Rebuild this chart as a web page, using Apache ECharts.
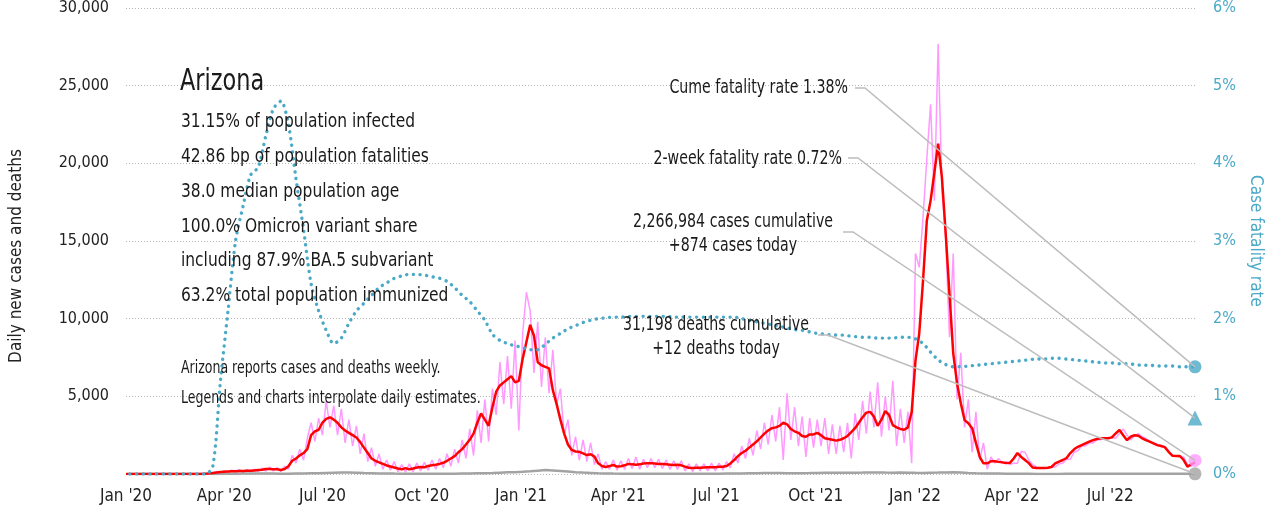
<!DOCTYPE html>
<html>
<head>
<meta charset="utf-8">
<script src="https://cdn.jsdelivr.net/npm/echarts@6/dist/echarts.min.js"></script>
<style>
html, body { margin: 0; padding: 0; background: #fff; }
#chart { width: 1281px; height: 519px; }
</style>
</head>
<body>
<div id="chart"></div>
<script>
var FONT = "'Liberation Sans Narrow', 'DejaVu Sans Condensed', sans-serif";
var DAY = 86400000;
var startDate = '2020-01-01';
var stepDays = 3.5;   // cases sampled twice a week, deaths and rate once a week (odd steps)

// daily new cases (raw, pink)
var casesDaily = [
  0,0,0,0,0,0,0,0,0,0,
  0,0,0,0,0,0,0,0,0,0,
  0,0,80,20,160,60,220,100,250,120,
  280,110,300,130,320,160,380,180,450,200,
  420,150,500,300,1200,700,1600,900,2300,3300,
  2100,3600,2500,4700,3000,4400,2500,4200,2000,3500,
  1800,3100,1300,2600,800,1700,500,1300,300,900,
  250,800,150,600,120,650,150,700,200,750,
  250,900,300,1000,400,1300,500,1600,700,2200,
  1000,2900,1200,4100,2000,4800,2100,5500,3800,7200,
  4500,7600,4200,8600,2800,9000,11700,10500,6500,9800,
  5600,8800,5200,8000,4500,5500,2500,3500,1200,2400,
  900,2200,800,2000,600,1300,300,800,300,900,
  250,850,300,1000,350,1100,300,950,400,1000,
  400,950,350,900,300,850,300,850,200,650,
  150,650,200,650,200,700,200,700,250,800,
  400,1300,700,1800,1000,2300,1200,2800,1600,3300,
  1900,3800,2100,4300,900,5200,2200,4300,1800,3700,
  1100,3600,1700,3500,1800,3600,1300,3200,1300,3100,
  1400,3300,1000,3900,2200,4700,2600,5300,3000,5900,
  2400,5000,2800,6000,1800,4200,2000,4000,700,14200,
  13300,16500,20300,23800,17600,27700,18400,15200,8800,14200,
  4800,7800,3000,4800,1400,4000,900,2000,300,1100,
  700,1000,700,800,600,700,700,1450,1400,900,
  600,450,350,400,350,450,450,650,700,950,
  950,1400,1500,1800,1800,2000,2000,2200,2200,2350,
  2300,2350,2300,2600,2900,2500,2200,2450,2600,2400,
  2300,2100,2000,1900,1850,1700,1500,1200,1150,1100,
  1100,600,500,874
];

// 7-day average of new cases (red)
var casesAvg = [
  0,0,0,0,0,0,0,0,0,0,
  0,0,0,0,0,0,0,0,0,0,
  0,20,40,70,100,130,150,160,170,180,
  190,200,210,210,230,250,270,320,320,300,
  300,260,320,500,850,1000,1200,1350,1600,2500,
  2750,2850,3300,3550,3650,3500,3300,3000,2800,2650,
  2500,2350,2050,1700,1350,1000,850,750,650,550,
  480,420,350,300,380,300,350,420,450,430,
  520,560,600,650,720,850,1000,1150,1400,1600,
  1900,2200,2600,3300,3900,3500,3100,4300,5300,5700,
  5900,6100,6300,5900,6000,7400,8500,9600,8900,7200,
  7000,6900,6800,5400,4500,3500,2600,1900,1550,1450,
  1430,1330,1220,1270,1120,690,510,450,510,580,
  480,500,560,650,620,600,620,680,700,700,
  680,650,640,620,600,580,590,560,470,400,
  390,400,410,420,430,440,440,460,470,520,
  680,900,1150,1350,1500,1700,1900,2100,2350,2600,
  2800,2950,3000,3100,3300,3200,2900,2750,2650,2450,
  2400,2550,2550,2650,2500,2300,2250,2200,2150,2200,
  2300,2450,2700,2950,3300,3650,3950,4000,3700,3100,
  3500,4050,3800,3150,3000,2900,2850,3000,4000,7300,
  9060,12450,16300,17600,19400,21260,19100,15500,11600,7770,
  5850,4550,3470,3270,2950,2000,1110,690,690,820,
  820,780,750,700,720,1000,1350,1100,900,700,
  420,380,380,380,400,450,690,800,900,1030,
  1350,1590,1750,1860,1970,2080,2180,2250,2300,2300,
  2300,2360,2610,2830,2500,2180,2400,2500,2460,2300,
  2180,2080,1970,1860,1800,1730,1430,1180,1160,1160,
  900,470,630,730
];

// daily deaths (gray), weekly
var deathsWeekly = [
  0,0,0,0,0,0,0,0,0,0,
  0,2,6,12,20,28,30,35,30,28,
  22,20,25,30,45,55,70,85,95,90,
  80,60,50,40,35,28,22,18,14,12,
  12,14,16,20,25,30,42,52,65,85,
  105,120,140,170,210,250,230,200,160,120,
  90,70,50,38,28,22,18,14,12,10,
  10,10,10,12,12,14,15,18,22,28,
  32,38,46,52,58,60,58,55,52,56,
  62,70,76,82,86,80,85,92,100,96,
  90,85,92,82,76,72,82,92,104,112,
  96,72,52,36,30,25,20,16,12,10,
  8,8,8,8,10,10,12,12,12,14,
  14,15,14,14,13,13,12,12,12,12,
  12,12
];

// case fatality rate, % (blue dotted), weekly
var cfrWeekly = [
  0,0,0,0,0,0,0,0,0,0,
  0,0.1,1.2,2.1,3.0,3.45,3.85,3.95,4.35,4.7,
  4.8,4.5,3.8,3.15,2.45,2.1,1.85,1.68,1.75,1.94,
  2.1,2.2,2.3,2.4,2.46,2.52,2.55,2.57,2.57,2.56,
  2.54,2.52,2.48,2.4,2.3,2.22,2.1,1.98,1.8,1.72,
  1.68,1.65,1.63,1.6,1.6,1.67,1.75,1.81,1.87,1.91,
  1.95,1.98,2.0,2.01,2.02,2.02,2.03,2.03,2.03,2.03,
  2.03,2.03,2.02,2.02,2.02,2.02,2.02,2.02,2.02,2.02,
  2.02,2.0,1.98,1.96,1.94,1.92,1.9,1.88,1.86,1.85,
  1.83,1.81,1.8,1.79,1.79,1.78,1.77,1.76,1.76,1.75,
  1.75,1.75,1.76,1.76,1.74,1.68,1.57,1.47,1.41,1.38,
  1.38,1.39,1.4,1.41,1.42,1.43,1.44,1.45,1.46,1.47,
  1.48,1.48,1.49,1.49,1.48,1.47,1.46,1.45,1.44,1.43,
  1.43,1.42,1.42,1.41,1.4,1.4,1.39,1.39,1.39,1.38,
  1.38,1.38
];

var todayCfr = 1.38;
var twoWeekCfr = 0.72;
var todayCases = 874;
var todayDeaths = 12;

var tickDates = ['2020-01-01','2020-04-01','2020-07-01','2020-10-01','2021-01-01','2021-04-01',
                 '2021-07-01','2021-10-01','2022-01-01','2022-04-01','2022-07-01'];
var tickLabels = ["Jan '20","Apr '20","Jul '20","Oct '20","Jan '21","Apr '21",
                  "Jul '21","Oct '21","Jan '22","Apr '22","Jul '22"];

var stateName = 'Arizona';
var statLines = [
  '31.15% of population infected',
  '42.86 bp of population fatalities',
  '38.0 median population age',
  '100.0% Omicron variant share',
  'including 87.9% BA.5 subvariant',
  '63.2% total population immunized'
];
var noteLines = [
  'Arizona reports cases and deaths weekly.',
  'Legends and charts interpolate daily estimates.'
];
var calloutCfr = ['Cume fatality rate 1.38%'];
var callout2wk = ['2-week fatality rate 0.72%'];
var calloutCases = ['2,266,984 cases cumulative', '+874 cases today'];
var calloutDeaths = ['31,198 deaths cumulative', '+12 deaths today'];

var BLUE = '#4aa9c7';
var PINK = '#ff99ff';
var RED = '#ff0000';
var GRAY = '#a3a3a3';

var t0 = Date.parse(startDate);
var tEnd = t0 + (casesDaily.length - 1) * stepDays * DAY;
var tickTimes = tickDates.map(function (d) { return Date.parse(d); });

function halfWeekSeries(arr) {
  return arr.map(function (v, j) { return [t0 + j * stepDays * DAY, v]; });
}
function weeklySeries(arr) {
  return arr.map(function (v, i) { return [t0 + (2 * i + 1) * stepDays * DAY, v]; });
}

var chart = echarts.init(document.getElementById('chart'));

var option = {
  animation: false,
  backgroundColor: '#fff',
  textStyle: { fontFamily: FONT },
  grid: { left: 124, right: 86, top: 7, bottom: 45 },
  xAxis: {
    type: 'value',
    min: t0,
    max: tEnd,
    axisLine: { show: false },
    axisTick: { show: false },
    splitLine: { show: false },
    axisLabel: {
      customValues: tickTimes,
      formatter: function (val) {
        var k = tickTimes.indexOf(+val);
        return k >= 0 ? tickLabels[k] : '';
      },
      fontFamily: FONT, fontSize: 17, color: '#222', margin: 14
    }
  },
  yAxis: [
    {
      type: 'value', min: 0, max: 30000, interval: 5000,
      name: 'Daily new cases and deaths',
      nameLocation: 'middle', nameGap: 101,
      nameTextStyle: { fontFamily: FONT, fontSize: 17, color: '#222', padding: [0, 30, 0, 0] },
      axisLine: { show: false }, axisTick: { show: false },
      axisLabel: {
        showMinLabel: false,
        formatter: function (v) { return v.toLocaleString('en-US'); },
        fontFamily: FONT, fontSize: 16, color: '#222', margin: 17
      },
      splitLine: { lineStyle: { type: [1, 2], color: '#b5b5b5', width: 1 } }
    },
    {
      type: 'value', min: 0, max: 6, interval: 1,
      name: 'Case fatality rate',
      nameLocation: 'middle', nameGap: 52, nameRotate: -90,
      nameTextStyle: { fontFamily: FONT, fontSize: 17, color: BLUE },
      axisLine: { show: false }, axisTick: { show: false },
      axisLabel: { formatter: '{value}%', fontFamily: FONT, fontSize: 16, color: BLUE, margin: 18 },
      splitLine: { show: false }
    }
  ],
  series: [
    {
      name: 'Daily cases', type: 'line', data: halfWeekSeries(casesDaily),
      showSymbol: false, lineStyle: { color: PINK, width: 1.5 }, z: 2
    },
    {
      name: 'Daily deaths', type: 'line', data: weeklySeries(deathsWeekly),
      showSymbol: false, lineStyle: { color: GRAY, width: 2.5 }, z: 3
    },
    {
      name: '7-day average', type: 'line', data: halfWeekSeries(casesAvg),
      showSymbol: false, lineStyle: { color: RED, width: 2.5 }, z: 4
    },
    {
      name: 'Case fatality rate', type: 'line', yAxisIndex: 1, data: weeklySeries(cfrWeekly),
      showSymbol: false, smooth: 0.3,
      lineStyle: { color: BLUE, width: 3.4, type: [0.1, 6.6], cap: 'round' }, z: 5
    },
    {
      type: 'scatter', yAxisIndex: 1, data: [[tEnd, todayCfr]],
      symbol: 'circle', symbolSize: 13, itemStyle: { color: BLUE }, z: 8
    },
    {
      type: 'scatter', yAxisIndex: 1, data: [[tEnd, twoWeekCfr]],
      symbol: 'triangle', symbolSize: 15, itemStyle: { color: BLUE }, z: 8
    },
    {
      type: 'scatter', yAxisIndex: 0, data: [[tEnd, todayCases]],
      symbol: 'circle', symbolSize: 13, itemStyle: { color: PINK }, z: 8
    },
    {
      type: 'scatter', yAxisIndex: 0, data: [[tEnd, todayDeaths]],
      symbol: 'circle', symbolSize: 13, itemStyle: { color: GRAY }, z: 8
    }
  ]
};

chart.setOption(option);

// text blocks (squeezed horizontally to mimic the condensed face) and leader lines
var graphics = [];
function addText(text, x, y, size, squeeze, align) {
  graphics.push({
    type: 'text', z: 20, x: x, y: y, scaleX: squeeze,
    style: {
      text: text, x: 0, y: 0, fill: '#1a1a1a',
      fontFamily: FONT, fontSize: size,
      align: align || 'left', verticalAlign: 'middle'
    }
  });
}

addText(stateName, 180, 82, 30, 0.83);
statLines.forEach(function (s, k) { addText(s, 181, 122 + k * 34.8, 20, 0.86); });
noteLines.forEach(function (s, k) { addText(s, 181, 369 + k * 30, 17, 0.82); });

var callouts = [
  { lines: calloutCfr, x: 848, y: 88, align: 'right', lineY: 88, lineX: 855, axis: 1, value: todayCfr },
  { lines: callout2wk, x: 842, y: 159, align: 'right', lineY: 158, lineX: 848, axis: 1, value: twoWeekCfr },
  { lines: calloutCases, x: 733, y: 222, align: 'center', lineY: 232, lineX: 843, axis: 0, value: todayCases },
  { lines: calloutDeaths, x: 716, y: 325, align: 'center', lineY: 335, lineX: 818, axis: 0, value: todayDeaths }
];

callouts.forEach(function (c) {
  c.lines.forEach(function (s, k) { addText(s, c.x, c.y + k * 24, 19, 0.83, c.align); });
  var p = chart.convertToPixel({ xAxisIndex: 0, yAxisIndex: c.axis }, [tEnd, c.value]);
  graphics.push({
    type: 'polyline', z: 15, silent: true,
    shape: { points: [[c.lineX, c.lineY], [c.lineX + 10, c.lineY], [p[0], p[1]]] },
    style: { stroke: '#bdbdbd', lineWidth: 1.5, fill: null }
  });
});

chart.setOption({ graphic: graphics });
</script>
</body>
</html>
